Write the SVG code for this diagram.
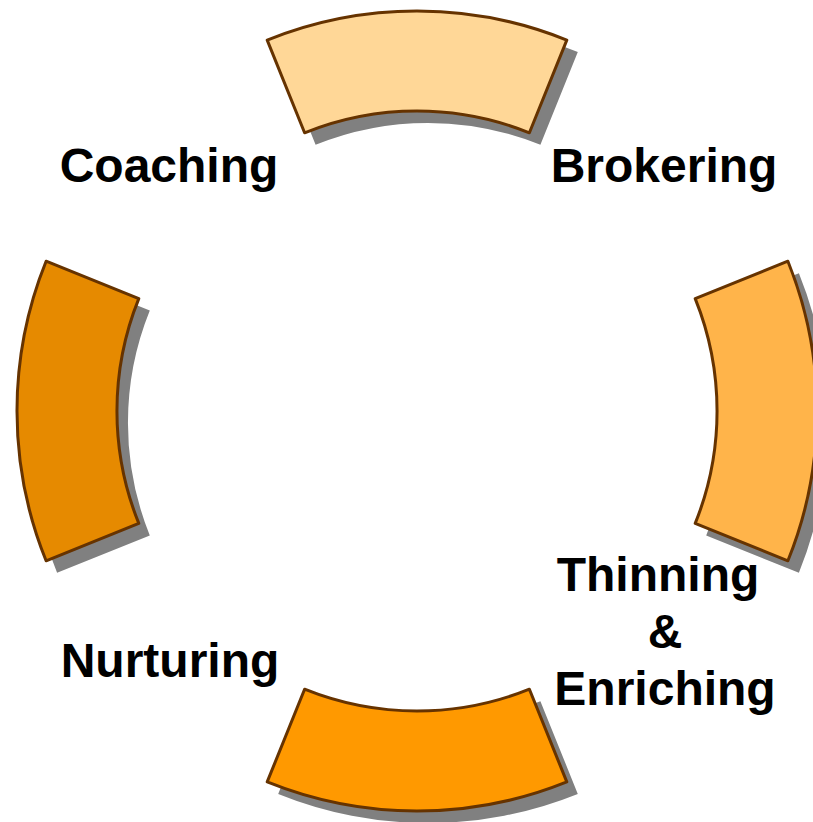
<svg xmlns="http://www.w3.org/2000/svg" xmlns:xlink="http://www.w3.org/1999/xlink" width="813" height="822" viewBox="0 0 813 822">
  <style>
    .seg { stroke: #663300; stroke-width: 3; stroke-linejoin: round; }
    .shadow { fill: #808080; stroke: none; }
    .lbl { font-family: "Liberation Sans", Arial, sans-serif; font-weight: bold; font-size: 48px; fill: #000000; text-anchor: middle; }
  </style>
  <defs>
    <path id="p-top" d="M267.2,40.1 A400,400 0 0 1 566.8,40.1 L529.4,132.8 A300,300 0 0 0 304.6,132.8 Z"/>
    <path id="p-bottom" d="M304.6,689.2 A300,300 0 0 0 529.4,689.2 L566.8,781.9 A400,400 0 0 1 267.2,781.9 Z"/>
    <path id="p-left" d="M46.1,261.2 L138.8,298.6 A300,300 0 0 0 138.8,523.4 L46.1,560.8 A400,400 0 0 1 46.1,261.2 Z"/>
    <path id="p-right" d="M787.9,261.2 A400,400 0 0 1 787.9,560.8 L695.2,523.4 A300,300 0 0 0 695.2,298.6 Z"/>
  </defs>

  <g id="segment-top">
    <use xlink:href="#p-top" href="#p-top" class="shadow" transform="translate(11,12)"/>
    <use xlink:href="#p-top" href="#p-top" class="seg" fill="#FFD797"/>
  </g>
  <g id="segment-right">
    <use xlink:href="#p-right" href="#p-right" class="shadow" transform="translate(11,12)"/>
    <use xlink:href="#p-right" href="#p-right" class="seg" fill="#FFB44A"/>
  </g>
  <g id="segment-bottom">
    <use xlink:href="#p-bottom" href="#p-bottom" class="shadow" transform="translate(11,12)"/>
    <use xlink:href="#p-bottom" href="#p-bottom" class="seg" fill="#FF9900"/>
  </g>
  <g id="segment-left">
    <use xlink:href="#p-left" href="#p-left" class="shadow" transform="translate(11,12)"/>
    <use xlink:href="#p-left" href="#p-left" class="seg" fill="#E68A00"/>
  </g>

  <g id="label-coaching">
    <text class="lbl" x="169" y="182">Coaching</text>
  </g>
  <g id="label-brokering">
    <text class="lbl" x="664" y="182">Brokering</text>
  </g>
  <g id="label-nurturing">
    <text class="lbl" x="170" y="677">Nurturing</text>
  </g>
  <g id="label-thinning">
    <text class="lbl" x="658" y="591">Thinning</text>
    <text class="lbl" x="665" y="648">&amp;</text>
    <text class="lbl" x="665" y="705">Enriching</text>
  </g>
</svg>
